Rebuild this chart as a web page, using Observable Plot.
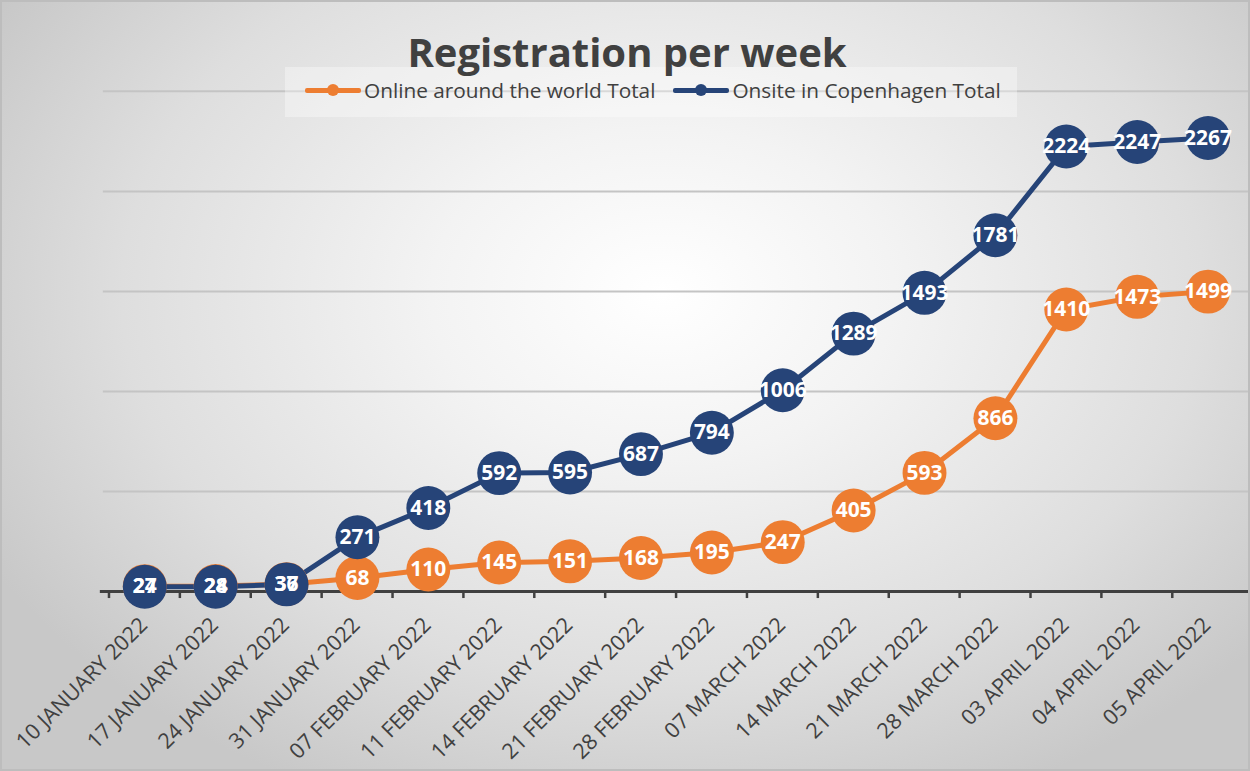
<!DOCTYPE html>
<html>
<head>
<meta charset="utf-8">
<script src="https://cdn.jsdelivr.net/npm/d3@7"></script>
<script src="https://cdn.jsdelivr.net/npm/@observablehq/plot@0.6"></script>
<style>
  html, body { margin: 0; padding: 0; }
  #wrap {
    position: relative; width: 1250px; height: 771px; overflow: hidden;
    background: radial-gradient(ellipse 62% 72% at 53% 38%, #ffffff 0%, #f3f3f3 30%, #dedede 70%, #c8c8c8 100%);
    box-sizing: border-box; border: 2px solid #bdbdbd;
    font-family: "Open Sans", sans-serif;
  }
  #chart { position: absolute; left: -2px; top: -2px; }
  #title {
    position: absolute; left: 0; width: 1250px; top: 31px; text-align: center;
    font-size: 40px; font-weight: 700; color: #404040; line-height: 38px;
  }
  #legendbox {
    position: absolute; left: 283px; top: 65px; width: 732px; height: 50px;
    background: rgba(255,255,255,0.35);
  }
  #legend {
    position: absolute; left: 303px; top: 76px; height: 24px; line-height: 24px; display: flex; align-items: center;
    font-size: 20.8px; color: #404040; white-space: nowrap;
  }
  .item { display: flex; align-items: center; margin-right: 18px; }
  .sw { position: relative; width: 56px; height: 5px; margin-right: 3px; }
  .sw .ln { position: absolute; left: 0; top: 0; width: 56px; height: 5px; border-radius: 2px; }
  .sw .dt { position: absolute; left: 22px; top: -3.5px; width: 12px; height: 12px; border-radius: 6px; }
</style>
</head>
<body>
<div id="wrap">
  <div id="chart"></div>
  <div id="legendbox"></div>
  <div id="title">Registration per week</div>
  <div id="legend"></div>
</div>
<script>
const dates = ["10 JANUARY 2022","17 JANUARY 2022","24 JANUARY 2022","31 JANUARY 2022","07 FEBRUARY 2022","11 FEBRUARY 2022","14 FEBRUARY 2022","21 FEBRUARY 2022","28 FEBRUARY 2022","07 MARCH 2022","14 MARCH 2022","21 MARCH 2022","28 MARCH 2022","03 APRIL 2022","04 APRIL 2022","05 APRIL 2022"];
const online = [27, 28, 37, 68, 110, 145, 151, 168, 195, 247, 405, 593, 866, 1410, 1473, 1499];
const onsite = [24, 24, 36, 271, 418, 592, 595, 687, 794, 1006, 1289, 1493, 1781, 2224, 2247, 2267];
const seriesNames = ["Online around the world Total", "Onsite in Copenhagen Total"];
const seriesColors = ["#ED7D31", "#264478"];
const gridValues = [500, 1000, 1500, 2000, 2500];

const onlineData = dates.map((d, i) => ({date: d, value: online[i]}));
const onsiteData = dates.map((d, i) => ({date: d, value: onsite[i]}));

const W = 1250, H = 771, mL = 103, mR = 0, mT = 91, mB = 179;
const half = (W - mL - mR) / dates.length / 2;

const chart = Plot.plot({
  width: W, height: H,
  marginLeft: mL, marginRight: mR, marginTop: mT, marginBottom: mB,
  style: {background: "transparent", overflow: "visible", fontFamily: "Open Sans, sans-serif"},
  x: {type: "band", domain: dates, padding: 0, axis: null},
  y: {domain: [0, 2500], axis: null},
  marks: [
    Plot.ruleY(gridValues, {stroke: "#c4c4c4", strokeWidth: 2}),
    Plot.ruleY([0], {stroke: "#404040", strokeWidth: 3, insetLeft: -3}),
    Plot.axisX({tickSize: 7, tickFormat: () => "", dx: -half, stroke: "#404040", strokeWidth: 2.5, label: null}),
    Plot.text(dates, {x: d => d, y: () => 0, text: d => d, rotate: -45, textAnchor: "end", dx: -1, dy: 30, fontSize: 21.5, fill: "#404040"}),
    Plot.line(onlineData, {x: "date", y: "value", stroke: seriesColors[0], strokeWidth: 5}),
    Plot.line(onsiteData, {x: "date", y: "value", stroke: seriesColors[1], strokeWidth: 5}),
    Plot.dot(onlineData, {x: "date", y: "value", r: 22, fill: seriesColors[0]}),
    Plot.dot(onsiteData, {x: "date", y: "value", r: 22, fill: seriesColors[1]}),
    Plot.text(onlineData, {x: "date", y: "value", text: d => String(d.value), fill: "white", fontWeight: 700, fontSize: 21}),
    Plot.text(onsiteData, {x: "date", y: "value", text: d => String(d.value), fill: "white", fontWeight: 700, fontSize: 21})
  ]
});
document.getElementById("chart").appendChild(chart);

const legend = document.getElementById("legend");
seriesNames.forEach((name, i) => {
  const item = document.createElement("div");
  item.className = "item";
  item.innerHTML = `<div class="sw"><div class="ln" style="background:${seriesColors[i]}"></div><div class="dt" style="background:${seriesColors[i]}"></div></div><span>${name}</span>`;
  legend.appendChild(item);
});
</script>
</body>
</html>
